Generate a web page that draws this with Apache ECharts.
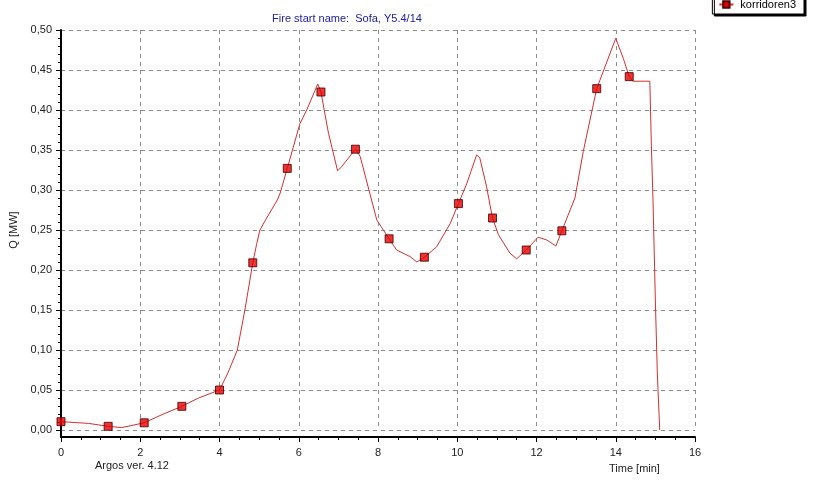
<!DOCTYPE html>
<html>
<head>
<meta charset="utf-8">
<script src="https://cdn.jsdelivr.net/npm/echarts@6/dist/echarts.min.js"></script>
<style>
  html, body { margin: 0; padding: 0; background: #fff; }
  #chart { width: 814px; height: 481px; }
</style>
</head>
<body>
<div id="chart"></div>
<script>
// Heat release curve (time in minutes, Q in MW)
const curveTime = [0, 0.69, 1.19, 1.53, 2.1, 2.54, 3.05, 3.47, 4.0, 4.2, 4.45, 4.64, 4.84, 4.94, 5.02, 5.19, 5.46, 5.53, 5.71, 6.03, 6.2, 6.48, 6.56, 6.75, 6.98, 7.08, 7.43, 7.55, 7.97, 8.28, 8.47, 8.81, 8.98, 9.17, 9.48, 9.82, 10.03, 10.24, 10.49, 10.57, 10.74, 10.89, 11.04, 11.33, 11.5, 11.74, 12.04, 12.26, 12.49, 12.64, 12.97, 13.18, 13.35, 13.52, 14.0, 14.19, 14.34, 14.43, 14.86, 14.9, 14.94, 15.0, 15.05, 15.11];
const curveQ = [0.0104, 0.0083, 0.0046, 0.003, 0.009, 0.019, 0.0296, 0.040, 0.050, 0.070, 0.100, 0.150, 0.209, 0.233, 0.250, 0.265, 0.2875, 0.296, 0.327, 0.383, 0.400, 0.4325, 0.4225, 0.371, 0.324, 0.329, 0.351, 0.342, 0.2625, 0.239, 0.225, 0.2167, 0.210, 0.216, 0.229, 0.258, 0.283, 0.308, 0.344, 0.340, 0.304, 0.265, 0.244, 0.221, 0.214, 0.225, 0.241, 0.2375, 0.230, 0.249, 0.290, 0.348, 0.3875, 0.4267, 0.4896, 0.4646, 0.4417, 0.436, 0.436, 0.354, 0.2875, 0.160, 0.070, 0.0];

// Sampled points shown with square markers
const markerTime = [0, 1.19, 2.1, 3.05, 4.0, 4.84, 5.71, 6.56, 7.43, 8.28, 9.17, 10.03, 10.89, 11.74, 12.64, 13.52, 14.34];
const markerQ = [0.0104, 0.0046, 0.009, 0.0296, 0.050, 0.209, 0.327, 0.4225, 0.351, 0.239, 0.216, 0.283, 0.265, 0.225, 0.249, 0.4267, 0.4417];

const seriesName = 'korridoren3';
const chartTitle = 'Fire start name:  Sofa, Y5.4/14';
const yName = 'Q [MW]';
const xName = 'Time [min]';
const versionText = 'Argos ver. 4.12';

const FONT = 'Liberation Sans, Arial, sans-serif';
const chart = echarts.init(document.getElementById('chart'), null, { renderer: 'canvas' });

const gridDash = { color: '#8c8c8c', type: [4, 4], width: 1 };

const option = {
  backgroundColor: '#ffffff',
  animation: false,
  textStyle: { fontFamily: FONT },
  title: {
    text: chartTitle,
    left: 342,
    textAlign: 'center',
    top: 8,
    textStyle: { fontFamily: FONT, fontSize: 11, fontWeight: 'normal', color: '#2020a8' }
  },
  legend: {
    data: [{ name: seriesName }],
    right: 10,
    top: -5,
    padding: [4, 8, 4, 6],
    itemWidth: 14,
    itemHeight: 8,
    itemGap: 4,
    backgroundColor: '#ffffff',
    borderColor: '#000000',
    borderWidth: 1,
    borderRadius: 0,
    shadowColor: '#000000',
    shadowBlur: 0,
    shadowOffsetX: 2,
    shadowOffsetY: 2,
    textStyle: { fontFamily: FONT, fontSize: 11, color: '#000000', padding: [0, 0, 0, 2] }
  },
  grid: { left: 61, right: 119, top: 30, bottom: 51, containLabel: false },
  xAxis: {
    type: 'value',
    min: 0,
    max: 16,
    interval: 2,
    offset: 7,
    axisLine: { show: true, onZero: false, lineStyle: { color: '#000000', width: 2 } },
    axisTick: { show: true, length: 5, lineStyle: { color: '#000000' } },
    minorTick: { show: true, splitNumber: 4, length: 3, lineStyle: { color: '#000000' } },
    axisLabel: { margin: 10, fontFamily: FONT, fontSize: 11, color: '#222222' },
    splitLine: { show: true, lineStyle: gridDash }
  },
  yAxis: {
    type: 'value',
    min: 0,
    max: 0.5,
    interval: 0.05,
    name: yName,
    nameLocation: 'middle',
    nameGap: 32,
    nameTextStyle: { fontFamily: FONT, fontSize: 11, color: '#222222' },
    axisLine: { show: true, onZero: false, lineStyle: { color: '#000000', width: 2 } },
    axisTick: { show: true, length: 5, lineStyle: { color: '#000000' } },
    minorTick: { show: true, splitNumber: 5, length: 3, lineStyle: { color: '#000000' } },
    axisLabel: {
      margin: 9,
      fontFamily: FONT,
      fontSize: 11,
      color: '#222222',
      formatter: v => v.toFixed(2).replace('.', ',')
    },
    splitLine: { show: true, lineStyle: gridDash }
  },
  series: [
    {
      name: seriesName,
      type: 'line',
      data: curveTime.map((t, i) => [t, curveQ[i]]),
      symbol: 'rect',
      symbolSize: 8,
      showSymbol: false,
      smooth: false,
      lineStyle: { color: '#d03030', width: 1 },
      itemStyle: { color: '#e80000', borderColor: '#500000', borderWidth: 1 },
      z: 2
    },
    {
      name: seriesName,
      type: 'scatter',
      data: markerTime.map((t, i) => [t, markerQ[i]]),
      symbol: 'rect',
      symbolSize: 8,
      itemStyle: { color: '#e80000', borderColor: '#400000', borderWidth: 1 },
      z: 3
    }
  ]
};

chart.setOption(option);

// Extend the vertical axis line down to the offset horizontal axis,
// and place the footer texts relative to the plot corners.
const origin = chart.convertToPixel({ gridIndex: 0 }, [0, 0]);
const corner = chart.convertToPixel({ gridIndex: 0 }, [16, 0]);
const xAxisOffset = 7;
chart.setOption({
  graphic: [
    {
      type: 'line',
      shape: { x1: origin[0], y1: origin[1], x2: origin[0], y2: origin[1] + xAxisOffset + 1 },
      style: { stroke: '#000000', lineWidth: 2 },
      z: 10
    },
    {
      type: 'text',
      left: origin[0] + 34,
      top: origin[1] + 30,
      style: { text: versionText, fontFamily: FONT, fontSize: 11, fill: '#222222' }
    },
    {
      type: 'text',
      left: corner[0] - 86,
      top: origin[1] + 33,
      style: { text: xName, fontFamily: FONT, fontSize: 11, fill: '#222222' }
    }
  ]
});
</script>
</body>
</html>
